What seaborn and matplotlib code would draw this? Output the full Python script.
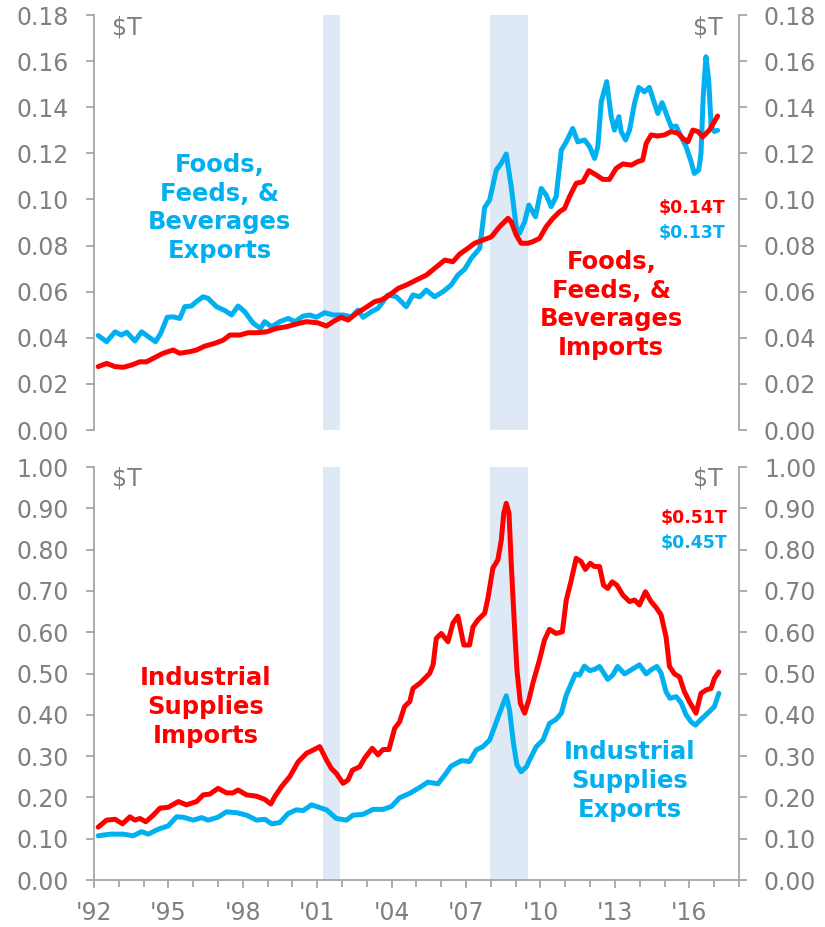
import matplotlib
matplotlib.use("Agg")
import matplotlib.pyplot as plt
from matplotlib.ticker import MultipleLocator, FuncFormatter
import seaborn as sns

# Foods, feeds & beverages ($T)
food_exp_t = [1992.17, 1992.51, 1992.85, 1993.10, 1993.32, 1993.65, 1993.92, 1994.19, 1994.48, 1994.69,
              1994.95, 1995.19, 1995.46, 1995.66, 1995.93, 1996.13, 1996.40, 1996.60, 1996.94, 1997.28,
              1997.55, 1997.81, 1998.08, 1998.42, 1998.71, 1998.88, 1999.16, 1999.49, 1999.83, 2000.10,
              2000.43, 2000.70, 2000.97, 2001.30, 2001.64, 2002.04, 2002.38, 2002.64, 2002.85, 2003.18,
              2003.45, 2003.85, 2004.19, 2004.59, 2004.86, 2005.13, 2005.40, 2005.73, 2006.07, 2006.40,
              2006.67, 2006.94, 2007.21, 2007.55, 2007.75, 2007.95, 2008.22, 2008.42, 2008.62, 2008.82,
              2009.02, 2009.15, 2009.36, 2009.53, 2009.80, 2010.03, 2010.23, 2010.43, 2010.63, 2010.84,
              2011.04, 2011.30, 2011.50, 2011.78, 2011.98, 2012.18, 2012.31, 2012.45, 2012.67, 2012.85,
              2012.98, 2013.16, 2013.25, 2013.43, 2013.59, 2013.79, 2013.96, 2014.19, 2014.39, 2014.55,
              2014.73, 2014.90, 2015.09, 2015.27, 2015.47, 2015.67, 2015.87, 2016.07, 2016.20, 2016.38,
              2016.47, 2016.56, 2016.67, 2016.78, 2016.88, 2017.01, 2017.14]
food_exp_v = [0.0410, 0.0383, 0.0426, 0.0412, 0.0424, 0.0386, 0.0426, 0.0405, 0.0383, 0.0419,
              0.0489, 0.0491, 0.0484, 0.0535, 0.0538, 0.0557, 0.0578, 0.0571, 0.0535, 0.0518,
              0.0499, 0.0538, 0.0513, 0.0463, 0.0441, 0.0470, 0.0448, 0.0470, 0.0484, 0.0470,
              0.0494, 0.0499, 0.0489, 0.0509, 0.0499, 0.0499, 0.0491, 0.0520, 0.0489, 0.0513,
              0.0528, 0.0586, 0.0578, 0.0535, 0.0586, 0.0578, 0.0607, 0.0578, 0.0600, 0.0629,
              0.0672, 0.0697, 0.0745, 0.0788, 0.0965, 0.0998, 0.1128, 0.1157, 0.1197, 0.1055,
              0.0882, 0.0853, 0.0903, 0.0976, 0.0925, 0.1048, 0.1019, 0.0969, 0.1012, 0.1214,
              0.1250, 0.1308, 0.1250, 0.1258, 0.1229, 0.1178, 0.1229, 0.1424, 0.1511, 0.1359,
              0.1301, 0.1359, 0.1295, 0.1258, 0.1301, 0.1417, 0.1486, 0.1467, 0.1486, 0.1431,
              0.1373, 0.1420, 0.1366, 0.1315, 0.1318, 0.1272, 0.1229, 0.1164, 0.1113, 0.1128,
              0.1200, 0.1446, 0.1619, 0.1518, 0.1315, 0.1295, 0.1300]

food_imp_t = [1992.17, 1992.51, 1992.85, 1993.18, 1993.52, 1993.85, 1994.12, 1994.46, 1994.79, 1995.19,
              1995.46, 1995.87, 1996.13, 1996.47, 1996.87, 1997.21, 1997.48, 1997.88, 1998.21, 1998.55,
              1998.96, 1999.36, 1999.76, 2000.16, 2000.57, 2001.03, 2001.37, 2001.70, 2001.97, 2002.24,
              2002.58, 2002.91, 2003.32, 2003.59, 2003.92, 2004.26, 2004.59, 2005.00, 2005.40, 2005.73,
              2006.14, 2006.47, 2006.74, 2007.07, 2007.34, 2007.68, 2008.02, 2008.35, 2008.69, 2008.82,
              2009.02, 2009.22, 2009.49, 2009.69, 2009.96, 2010.23, 2010.50, 2010.77, 2010.97, 2011.17,
              2011.44, 2011.71, 2011.95, 2012.25, 2012.51, 2012.78, 2013.05, 2013.32, 2013.66, 2013.92,
              2014.12, 2014.26, 2014.46, 2014.73, 2015.00, 2015.27, 2015.54, 2015.74, 2015.94, 2016.14,
              2016.34, 2016.54, 2016.81, 2017.01, 2017.14]
food_imp_v = [0.0275, 0.0289, 0.0275, 0.0272, 0.0282, 0.0296, 0.0296, 0.0315, 0.0333, 0.0347,
              0.0333, 0.0340, 0.0347, 0.0364, 0.0376, 0.0390, 0.0412, 0.0412, 0.0422, 0.0422,
              0.0426, 0.0441, 0.0448, 0.0460, 0.0470, 0.0465, 0.0451, 0.0474, 0.0489, 0.0477,
              0.0506, 0.0528, 0.0557, 0.0564, 0.0586, 0.0614, 0.0629, 0.0651, 0.0672, 0.0701,
              0.0737, 0.0730, 0.0763, 0.0788, 0.0810, 0.0824, 0.0838, 0.0882, 0.0918, 0.0903,
              0.0846, 0.0810, 0.0810, 0.0817, 0.0831, 0.0882, 0.0918, 0.0947, 0.0961, 0.1012,
              0.1070, 0.1077, 0.1125, 0.1106, 0.1087, 0.1087, 0.1135, 0.1154, 0.1149, 0.1164,
              0.1171, 0.1243, 0.1280, 0.1275, 0.1280, 0.1295, 0.1287, 0.1265, 0.1250, 0.1301,
              0.1295, 0.1272, 0.1301, 0.1338, 0.1362]

# Industrial supplies ($T)
ind_imp_t = [1992.17, 1992.51, 1992.85, 1993.15, 1993.45, 1993.65, 1993.85, 1994.09, 1994.39, 1994.66,
             1994.99, 1995.40, 1995.73, 1996.14, 1996.40, 1996.67, 1997.00, 1997.34, 1997.61, 1997.81,
             1998.15, 1998.55, 1998.89, 1999.13, 1999.29, 1999.56, 1999.89, 2000.23, 2000.57, 2000.85,
             2001.10, 2001.37, 2001.57, 2001.77, 2002.04, 2002.24, 2002.42, 2002.71, 2002.91, 2003.22,
             2003.45, 2003.65, 2003.89, 2004.12, 2004.32, 2004.52, 2004.73, 2004.86, 2005.13, 2005.33,
             2005.53, 2005.67, 2005.80, 2006.00, 2006.27, 2006.47, 2006.67, 2006.91, 2007.14, 2007.28,
             2007.48, 2007.75, 2007.88, 2008.08, 2008.28, 2008.42, 2008.52, 2008.62, 2008.73, 2008.82,
             2008.96, 2009.05, 2009.19, 2009.36, 2009.53, 2009.69, 2009.96, 2010.16, 2010.36, 2010.63,
             2010.88, 2011.04, 2011.24, 2011.44, 2011.64, 2011.81, 2012.00, 2012.18, 2012.38, 2012.54,
             2012.71, 2012.89, 2013.08, 2013.32, 2013.59, 2013.79, 2013.99, 2014.23, 2014.46, 2014.66,
             2014.86, 2015.06, 2015.20, 2015.40, 2015.60, 2015.80, 2016.00, 2016.27, 2016.47, 2016.67,
             2016.88, 2017.01, 2017.19]
ind_imp_v = [0.128, 0.145, 0.147, 0.136, 0.153, 0.145, 0.149, 0.141, 0.157, 0.174,
             0.176, 0.190, 0.182, 0.190, 0.206, 0.208, 0.222, 0.211, 0.211, 0.218,
             0.206, 0.203, 0.195, 0.184, 0.202, 0.226, 0.250, 0.286, 0.307, 0.315,
             0.323, 0.291, 0.270, 0.258, 0.234, 0.242, 0.266, 0.274, 0.295, 0.319,
             0.303, 0.316, 0.316, 0.367, 0.383, 0.420, 0.432, 0.464, 0.476, 0.488,
             0.500, 0.521, 0.585, 0.597, 0.577, 0.622, 0.639, 0.569, 0.569, 0.613,
             0.630, 0.646, 0.682, 0.755, 0.775, 0.823, 0.888, 0.912, 0.888, 0.767,
             0.605, 0.509, 0.428, 0.404, 0.436, 0.476, 0.533, 0.581, 0.607, 0.597,
             0.601, 0.678, 0.726, 0.779, 0.771, 0.752, 0.767, 0.759, 0.759, 0.714,
             0.706, 0.722, 0.714, 0.690, 0.674, 0.678, 0.666, 0.698, 0.674, 0.660,
             0.642, 0.589, 0.517, 0.499, 0.492, 0.456, 0.432, 0.404, 0.452, 0.460,
             0.464, 0.488, 0.504]

ind_exp_t = [1992.17, 1992.64, 1993.18, 1993.58, 1993.92, 1994.19, 1994.59, 1994.99, 1995.33, 1995.60,
             1996.00, 1996.34, 1996.60, 1997.00, 1997.34, 1997.75, 1998.15, 1998.55, 1998.89, 1999.16,
             1999.49, 1999.83, 2000.16, 2000.43, 2000.77, 2001.07, 2001.37, 2001.77, 2002.18, 2002.44,
             2002.85, 2003.25, 2003.65, 2003.99, 2004.32, 2004.73, 2005.13, 2005.46, 2005.87, 2006.14,
             2006.40, 2006.81, 2007.14, 2007.41, 2007.68, 2007.95, 2008.15, 2008.35, 2008.62, 2008.75,
             2008.91, 2009.05, 2009.22, 2009.43, 2009.56, 2009.83, 2010.10, 2010.36, 2010.63, 2010.84,
             2011.04, 2011.24, 2011.41, 2011.57, 2011.77, 2011.98, 2012.18, 2012.38, 2012.71, 2012.91,
             2013.11, 2013.39, 2013.66, 2013.99, 2014.26, 2014.46, 2014.69, 2014.86, 2015.06, 2015.22,
             2015.47, 2015.67, 2015.87, 2016.07, 2016.25, 2016.47, 2016.67, 2016.88, 2017.01, 2017.19]
ind_exp_v = [0.107, 0.111, 0.111, 0.107, 0.117, 0.111, 0.123, 0.131, 0.153, 0.152,
             0.145, 0.151, 0.145, 0.152, 0.165, 0.163, 0.157, 0.145, 0.147, 0.136,
             0.139, 0.161, 0.170, 0.168, 0.182, 0.176, 0.170, 0.149, 0.145, 0.157,
             0.159, 0.171, 0.171, 0.178, 0.199, 0.210, 0.224, 0.237, 0.233, 0.254,
             0.276, 0.289, 0.287, 0.315, 0.323, 0.339, 0.371, 0.404, 0.446, 0.412,
             0.331, 0.279, 0.262, 0.274, 0.291, 0.323, 0.339, 0.379, 0.389, 0.404,
             0.448, 0.476, 0.499, 0.496, 0.518, 0.507, 0.510, 0.517, 0.486, 0.496,
             0.517, 0.499, 0.509, 0.521, 0.499, 0.509, 0.517, 0.501, 0.456, 0.440,
             0.444, 0.429, 0.400, 0.383, 0.375, 0.389, 0.400, 0.412, 0.420, 0.452]

recessions = [(2001.25, 2001.92), (2007.96, 2009.50)]

RED = "#FF0000"
CYAN = "#00B0F0"
GRAY = "#808080"
SPINE = "#A6A6A6"
BAND = "#DFE8F5"

sns.set_style("white")
plt.rcParams["font.family"] = ["DejaVu Sans"]

fig = plt.figure(figsize=(8.25, 9.27), dpi=100)
ax_top = fig.add_axes([0.1139, 0.5361, 0.7818, 0.4477])
ax_bot = fig.add_axes([0.1139, 0.0507, 0.7818, 0.4455])


def style_axis(ax, ymax, ystep, fmt):
    ax.set_xlim(1992, 2018)
    ax.set_ylim(0, ymax)
    ax.yaxis.set_major_locator(MultipleLocator(ystep))
    ax.yaxis.set_major_formatter(FuncFormatter(lambda v, p: fmt.format(v)))
    for r0, r1 in recessions:
        ax.axvspan(r0, r1, color=BAND, lw=0, zorder=0)
    for s in ["left", "right", "bottom"]:
        ax.spines[s].set_color(SPINE)
        ax.spines[s].set_linewidth(1.3)
    ax.spines["top"].set_visible(False)
    ax.tick_params(axis="y", which="both", left=True, right=True, labelleft=True, labelright=True,
                   direction="out", length=6, width=1.3, color=SPINE, labelsize=17, labelcolor=GRAY, pad=12)
    ax.set_xlabel("")
    ax.set_ylabel("")
    ax.text(0.028, 0.971, "$T", transform=ax.transAxes, ha="left", va="center", fontsize=17, color=GRAY)
    ax.text(0.975, 0.971, "$T", transform=ax.transAxes, ha="right", va="center", fontsize=17, color=GRAY)


def label(ax, x, y, s, color, size=17.5):
    ax.text(x, y, s, ha="center", va="center", fontsize=size, fontweight="bold", color=color,
            linespacing=1.25, multialignment="center")


# top panel
sns.lineplot(x=food_exp_t, y=food_exp_v, color=CYAN, linewidth=3.6, ax=ax_top, zorder=3)
sns.lineplot(x=food_imp_t, y=food_imp_v, color=RED, linewidth=3.6, ax=ax_top, zorder=4)
style_axis(ax_top, 0.18, 0.02, "{:.2f}")
ax_top.spines["bottom"].set_visible(False)
ax_top.tick_params(axis="x", bottom=False, labelbottom=False)
label(ax_top, 1997.07, 0.0963, "Foods,\nFeeds, &\nBeverages\nExports", CYAN)
label(ax_top, 2012.85, 0.0542, "Foods,\nFeeds, &\nBeverages\nImports", RED)
ax_top.text(2017.45, 0.0963, "$0.14T", ha="right", va="center", fontsize=12.5, fontweight="bold", color=RED)
ax_top.text(2017.45, 0.0854, "$0.13T", ha="right", va="center", fontsize=12.5, fontweight="bold", color=CYAN)

# bottom panel
sns.lineplot(x=ind_exp_t, y=ind_exp_v, color=CYAN, linewidth=3.6, ax=ax_bot, zorder=3)
sns.lineplot(x=ind_imp_t, y=ind_imp_v, color=RED, linewidth=3.6, ax=ax_bot, zorder=4)
style_axis(ax_bot, 1.0, 0.1, "{:.2f}")
ax_bot.xaxis.set_major_locator(MultipleLocator(3))
ax_bot.xaxis.set_minor_locator(MultipleLocator(1))
ax_bot.xaxis.set_major_formatter(FuncFormatter(lambda v, p: "'{:02d}".format(int(round(v)) % 100)))
ax_bot.tick_params(axis="x", which="major", bottom=True, direction="out", length=6, width=1.3,
                   color=SPINE, labelsize=17, labelcolor=GRAY, pad=9)
ax_bot.tick_params(axis="x", which="minor", bottom=True, direction="out", length=5, width=1.3, color=SPINE)
label(ax_bot, 1996.51, 0.419, "Industrial\nSupplies\nImports", RED)
label(ax_bot, 2013.59, 0.240, "Industrial\nSupplies\nExports", CYAN)
ax_bot.text(2017.53, 0.8765, "$0.51T", ha="right", va="center", fontsize=12.5, fontweight="bold", color=RED)
ax_bot.text(2017.53, 0.816, "$0.45T", ha="right", va="center", fontsize=12.5, fontweight="bold", color=CYAN)

fig.savefig("out.png", dpi=100)
